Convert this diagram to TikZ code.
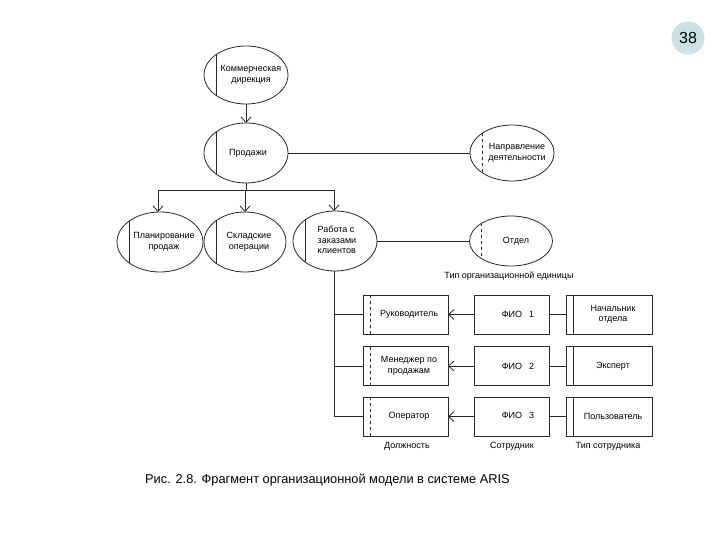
\documentclass[tikz,border=0pt]{standalone}
\usepackage{fontspec}
\setmainfont{Liberation Sans}
\usetikzlibrary{shapes.geometric,arrows.meta}
\definecolor{badge}{RGB}{200,226,230}
\definecolor{ln}{RGB}{40,40,40}
\tikzset{
  ell/.style={ellipse,draw=ln,line width=0.8pt,minimum width=84pt,minimum height=58pt,inner sep=0pt,outer sep=0pt},
  box/.style={rectangle,draw=ln,line width=0.8pt,minimum width=85pt,minimum height=39pt,inner sep=0pt,outer sep=0pt},
  fbox/.style={rectangle,draw=ln,line width=0.8pt,minimum width=75pt,minimum height=39pt,inner sep=0pt,outer sep=0pt},
  txt/.style={font=\fontsize{9}{10.5}\selectfont,align=center,inner sep=0pt,text=black},
  captxt/.style={font=\fontsize{9}{10.5}\selectfont,inner sep=0pt,text=black},
  con/.style={draw=ln,line width=0.8pt},
  arr/.style={con,-{Straight Barb[length=5.5pt,width=10pt,line width=0.8pt]}},
}
\begin{document}
\begin{tikzpicture}[x=1pt,y=-1pt]
\useasboundingbox[fill=white] (0,0) rectangle (720,540);
% ellipses
\node[ell] (kd) at (246,75) {};
\node[txt] (kdt) at (251,75) {Коммерческая\\дирекция};
\draw[con] (kd.north west) -- (kd.south west);
\node[ell,minimum height=60pt] (pr) at (246,153) {};
\node[txt] (prt) at (248,153) {Продажи};
\draw[con] (pr.north west) -- (pr.south west);
\node[ell,minimum height=56pt] (nd) at (512,153) {};
\node[txt] (ndt) at (517,153) {Направление\\деятельности};
\draw[con,dashed] (nd.north west) -- (nd.south west);
\node[ell,minimum width=86pt,minimum height=60pt] (pl) at (160,242) {};
\node[txt] (plt) at (164,242) {Планирование\\продаж};
\draw[con] (pl.north west) -- (pl.south west);
\node[ell,minimum width=82pt,minimum height=60pt] (sk) at (245,242) {};
\node[txt] (skt) at (249,242) {Складские\\операции};
\draw[con] (sk.north west) -- (sk.south west);
\node[ell,minimum height=60pt] (rz) at (335,241) {};
\node[txt,align=left] (rzt) at (337,240) {Работа с\\заказами\\клиентов};
\draw[con] (rz.north west) -- (rz.south west);
\node[ell,minimum width=83pt,minimum height=50pt] (ot) at (511,241) {};
\node[txt] (ott) at (516,241) {Отдел};
\draw[con,dashed] (ot.north west) -- (ot.south west);
\node[captxt] (otc) at (509,276) {Тип организационной единицы};
% connectors top
\draw[arr] (kd.south) -- (pr.north);
\draw[con] (pr.east) -- (nd.west);
\coordinate (j0) at (246,190);
\coordinate (j1) at (158,190);
\coordinate (j2) at (245,190);
\coordinate (j3) at (334,190);
\draw[con] (pr.south) -- (j0);
\draw[con] (j1) -- (j3);
\draw[arr] (j1) -- (pl.north -| j1);
\draw[arr] (j2) -- (sk.north);
\draw[arr] (j3) -- (rz.north -| j3);
\draw[con] (rz.east) -- (ot.west);
% position boxes
\node[box] (d1) at (405.5,314.5) {};
\node[txt] (d1t) at (409,314.5) {Руководитель};
\node[box] (d2) at (405.5,366) {};
\node[txt] (d2t) at (409,366) {Менеджер по\\продажам};
\node[box] (d3) at (405.5,416.5) {};
\node[txt] (d3t) at (409,416.5) {Оператор};
\foreach \n in {d1,d2,d3}{
  \draw[con,dashed] ([xshift=7pt]\n.north west) -- ([xshift=7pt]\n.south west);
}
\node[captxt] (d) at (407,446) {Должность};
% employees
\node[fbox] (f1) at (511.5,314.5) {};
\node[txt] (f1t) at (518,314) {ФИО\enspace\ 1};
\node[fbox] (f2) at (511.5,366) {};
\node[txt] (f2t) at (518,366) {ФИО\enspace\ 2};
\node[fbox] (f3) at (511.5,416.5) {};
\node[txt] (f3t) at (518,415) {ФИО\enspace\ 3};
\node[captxt] (s) at (512,446) {Сотрудник};
% employee types
\node[box,minimum width=86pt] (t1) at (609,314.5) {};
\node[txt] (t1t) at (613,314.5) {Начальник\\отдела};
\node[box,minimum width=86pt] (t2) at (609,366) {};
\node[txt] (t2t) at (613,366) {Эксперт};
\node[box,minimum width=86pt] (t3) at (609,416.5) {};
\node[txt] (t3t) at (613,416.5) {Пользователь};
\foreach \n in {t1,t2,t3}{
  \draw[con] ([xshift=7pt]\n.north west) -- ([xshift=7pt]\n.south west);
}
\node[captxt] (ts) at (608,446) {Тип сотрудника};
% connectors bottom
\coordinate (b3) at (334,416.5);
\draw[con] (rz.south -| j3) -- (b3) -- (d3.west);
\draw[con] (d1.west -| j3) -- (d1.west);
\draw[con] (d2.west -| j3) -- (d2.west);
\foreach \i in {1,2,3}{
  \draw[arr] (f\i.west) -- (d\i.east);
  \draw[con] (f\i.east) -- (t\i.west);
}
% badge
\node[circle,fill=badge,minimum size=33pt,inner sep=0pt,font=\fontsize{16}{18}\selectfont] (badge) at (688,38) {38};
% caption
\node[anchor=west,inner sep=0pt,font=\fontsize{12.8}{14}\selectfont] (caption) at (145,480) {Рис. 2.8. Фрагмент организационной модели в системе ARIS};
\end{tikzpicture}
\end{document}
